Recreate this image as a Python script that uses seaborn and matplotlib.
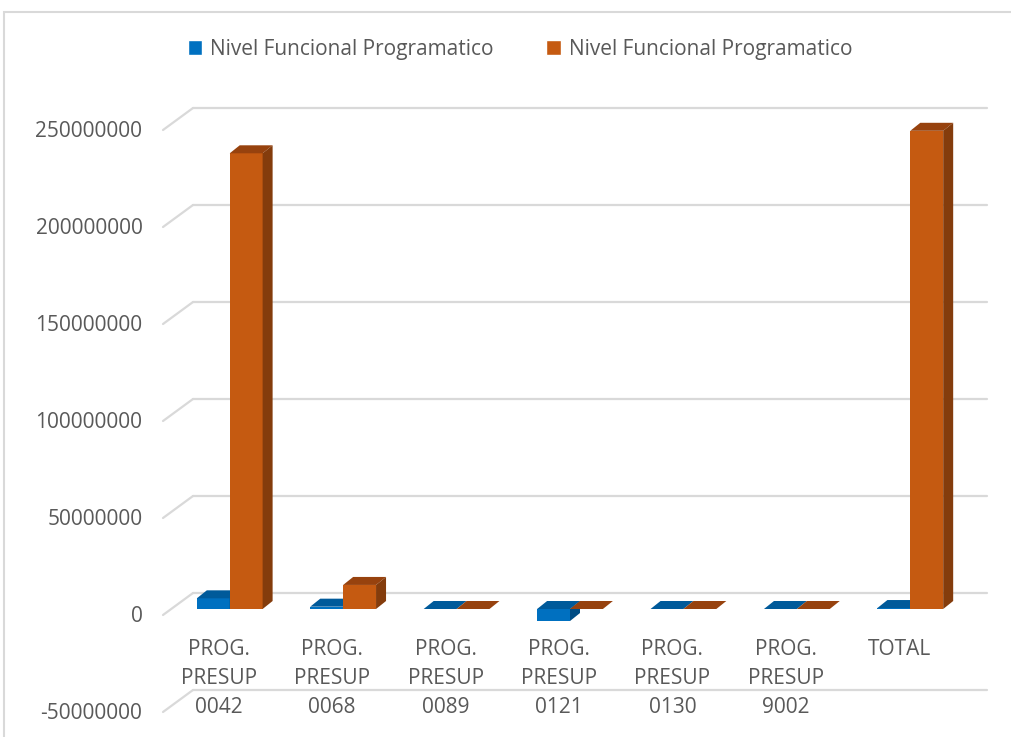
import pandas as pd
import matplotlib
matplotlib.use("Agg")
import matplotlib.pyplot as plt
import matplotlib.transforms as mtransforms
from matplotlib.patches import Polygon, Rectangle
import seaborn as sns

# Datos
categorias = ["PROG.\nPRESUP\n0042", "PROG.\nPRESUP\n0068", "PROG.\nPRESUP\n0089",
              "PROG.\nPRESUP\n0121", "PROG.\nPRESUP\n0130", "PROG.\nPRESUP\n9002", "TOTAL"]
serie_azul = [5.5e6, 1.2e6, 0, -6.2e6, 0, 0, 0.5e6]
serie_naranja = [234.9e6, 12.4e6, 0, 0, 0, 0, 246.5e6]
nombre_serie = "Nivel Funcional Programatico"
yticks = [-50000000, 0, 50000000, 100000000, 150000000, 200000000, 250000000]

df = pd.DataFrame({
    "categoria": categorias * 2,
    "serie": ["azul"] * len(categorias) + ["naranja"] * len(categorias),
    "valor": serie_azul + serie_naranja,
})

colores = {"azul": "#0070C0", "naranja": "#C55A11"}
techo = {"azul": "#005A9A", "naranja": "#97420E"}
lado = {"azul": "#004C84", "naranja": "#843C0C"}
gris_texto = "#595959"
gris_linea = "#D9D9D9"

sns.set_style("white")
plt.rcParams["font.family"] = ["Open Sans", "DejaVu Sans"]

fig = plt.figure(figsize=(10.11, 7.37), dpi=100)
ax = fig.add_axes([173 / 1011, 31 / 737, 794 / 1011, 0.816])

sns.barplot(data=df, x="categoria", y="valor", hue="serie", palette=colores,
            width=0.58, gap=0, dodge=True, legend=False, saturation=1, ax=ax,
            edgecolor="none", linewidth=0, zorder=3)

ax.set_xlim(-0.5, len(categorias) - 0.5)
ax.set_ylim(-50e6, 260e6)

# pixeles -> unidades de datos
px_x = (len(categorias)) / 794.0
px_y = 50e6 / 97.0
dx, dy = 10 * px_x, 8 * px_y

# caras 3D de las barras
for k, (nombre, cont) in enumerate(zip(["azul", "naranja"], ax.containers)):
    for bar in cont:
        bar.set_zorder(3 + k * 0.2)
        x0, w = bar.get_x(), bar.get_width()
        y0, h = bar.get_y(), bar.get_height()
        lo, hi = min(y0, y0 + h), max(y0, y0 + h)
        top = Polygon([(x0, hi), (x0 + w, hi), (x0 + w + dx, hi + dy), (x0 + dx, hi + dy)],
                      closed=True, facecolor=techo[nombre], edgecolor="none", zorder=3.1 + k * 0.2)
        side = Polygon([(x0 + w, lo), (x0 + w, hi), (x0 + w + dx, hi + dy), (x0 + w + dx, lo + dy)],
                       closed=True, facecolor=lado[nombre], edgecolor="none", zorder=3.1 + k * 0.2)
        ax.add_patch(top)
        ax.add_patch(side)

# lineas de la pared del fondo y diagonales del piso
pared = mtransforms.offset_copy(ax.transData, fig=fig, x=20 / 100, y=16 / 100, units="inches")
xl, xr = ax.get_xlim()
for v in yticks:
    ax.plot([xl, xr], [v, v], color=gris_linea, lw=1.6, transform=pared, zorder=0, clip_on=False)
    ax.plot([xl - 10 * px_x, xl + 20 * px_x], [v - 6 * px_y, v + 16 * px_y],
            color=gris_linea, lw=1.6, zorder=0, clip_on=False)

# etiquetas del eje y
ax.set_yticks(yticks)
ax.set_yticklabels([str(v) for v in yticks])
ax.tick_params(axis="y", length=0, pad=22, labelsize=15, labelcolor=gris_texto)
for lab in ax.get_yticklabels():
    lab.set_transform(lab.get_transform() + mtransforms.ScaledTranslation(0, -5 / 100, fig.dpi_scale_trans))

# etiquetas del eje x dentro del area
ax.set_xticks([])
ax.set_xlabel("")
ax.set_ylabel("")
frente = mtransforms.offset_copy(ax.transData, fig=fig, x=-11 / 100, y=-30 / 100, units="inches")
for i, cat in enumerate(categorias):
    ax.text(i, 0, cat, transform=frente, ha="center", va="top", fontsize=15,
            color=gris_texto, linespacing=1.5)

for s in ax.spines.values():
    s.set_visible(False)

# borde del grafico
fig.patches.append(Rectangle((4 / 1011, -0.05), 1.2, 1 - 12 / 737 + 0.05, transform=fig.transFigure,
                             fill=False, edgecolor=gris_linea, lw=1.5))

# leyenda
handles = [Rectangle((0, 0), 1, 1, facecolor=colores["azul"]),
           Rectangle((0, 0), 1, 1, facecolor=colores["naranja"])]
fig.legend(handles, [nombre_serie, nombre_serie], loc="center", bbox_to_anchor=(520 / 1011, 1 - 49 / 737),
           ncol=2, frameon=False, fontsize=15, labelcolor=gris_texto, handlelength=0.7,
           handleheight=0.7, handletextpad=0.4, columnspacing=2.5)

fig.savefig("out.png", dpi=100)
